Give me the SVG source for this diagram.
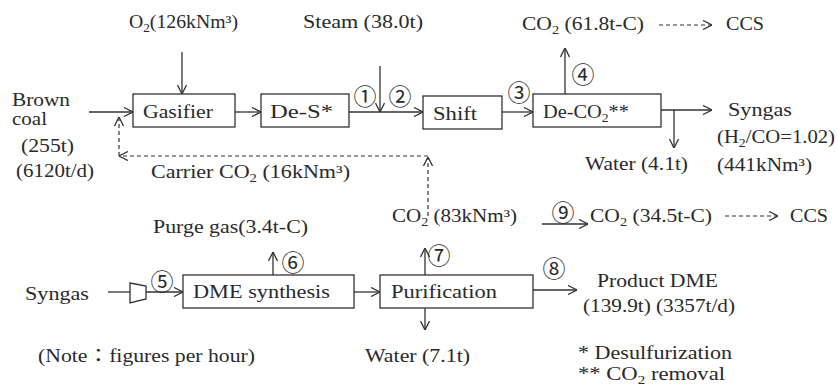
<svg xmlns="http://www.w3.org/2000/svg" width="837" height="387" viewBox="0 0 837 387">
<defs>
<marker id="ah" viewBox="0 0 10 10" refX="10" refY="5" markerWidth="10" markerHeight="10" markerUnits="userSpaceOnUse" orient="auto">
<path d="M1,0.5 L10,5 L1,9.5" fill="none" stroke="#333" stroke-width="1.3"/>
</marker>
<style>
text{font-family:"Liberation Serif","Noto Sans CJK JP",serif;font-size:18px;fill:#2a2a2a}
.sub{font-size:12px}
.num{font-family:"Noto Sans CJK JP","DejaVu Sans",sans-serif;font-size:23px;text-anchor:middle;dominant-baseline:central}
.box{fill:#fff;stroke:#333;stroke-width:1.3}
.ln{fill:none;stroke:#333;stroke-width:1.3}
.arr{fill:none;stroke:#333;stroke-width:1.3;marker-end:url(#ah)}
.dash{fill:none;stroke:#333;stroke-width:1.2;stroke-dasharray:4 3;marker-end:url(#ah)}
</style>
</defs>
<rect width="837" height="387" fill="#fff"/>

<g id="connectors">
<line class="arr" x1="89" y1="112" x2="133" y2="112"/>
<line class="arr" x1="182" y1="52" x2="182" y2="94"/>
<line class="arr" x1="235" y1="112" x2="261" y2="112"/>
<line class="arr" x1="349" y1="112" x2="423" y2="112"/>
<line class="arr" x1="380" y1="66" x2="380" y2="112"/>
<line class="arr" x1="502" y1="112" x2="533" y2="112"/>
<line class="arr" x1="565" y1="94" x2="565" y2="48"/>
<line class="arr" x1="661" y1="110" x2="712" y2="110"/>
<line class="arr" x1="674" y1="110" x2="674" y2="148"/>
<line class="dash" x1="659" y1="25" x2="712" y2="25"/>
<line class="dash" x1="428" y1="216" x2="428" y2="157"/>
<line class="dash" x1="428" y1="156" x2="119" y2="156"/>
<line class="dash" x1="119" y1="156" x2="119" y2="117"/>
<line class="ln" x1="108" y1="292" x2="130" y2="292"/>
<line class="arr" x1="146" y1="292" x2="183" y2="292"/>
<line class="arr" x1="273" y1="275" x2="273" y2="252"/>
<line class="arr" x1="354" y1="292" x2="380" y2="292"/>
<line class="arr" x1="425" y1="275" x2="425" y2="248"/>
<line class="arr" x1="425" y1="308" x2="425" y2="330"/>
<line class="arr" x1="533" y1="290" x2="577" y2="290"/>
<line class="arr" x1="542" y1="224" x2="588" y2="224"/>
<line class="dash" x1="725" y1="216" x2="778" y2="216"/>
</g>

<g id="compressor">
<polygon class="box" points="130,283 146,286 146,299 130,303"/>
</g>

<g id="gasifier">
<rect class="box" x="133" y="94" width="102" height="33"/>
<text x="143" y="118" textLength="70" lengthAdjust="spacingAndGlyphs">Gasifier</text>
</g>
<g id="des">
<rect class="box" x="261" y="94" width="88" height="33"/>
<text x="270" y="118" textLength="63" lengthAdjust="spacingAndGlyphs">De-S*</text>
</g>
<g id="shift">
<rect class="box" x="423" y="96" width="79" height="33"/>
<text x="433" y="120" textLength="44" lengthAdjust="spacingAndGlyphs">Shift</text>
</g>
<g id="deco2">
<rect class="box" x="533" y="94" width="128" height="33"/>
<text x="543" y="118" textLength="86" lengthAdjust="spacingAndGlyphs">De-CO<tspan class="sub" dy="4">2</tspan><tspan dy="-4">**</tspan></text>
</g>
<g id="dme">
<rect class="box" x="183" y="275" width="171" height="33"/>
<text x="193" y="298" textLength="137" lengthAdjust="spacingAndGlyphs">DME synthesis</text>
</g>
<g id="purification">
<rect class="box" x="380" y="275" width="153" height="33"/>
<text x="391" y="298" textLength="106" lengthAdjust="spacingAndGlyphs">Purification</text>
</g>

<g id="labels">
<text x="129" y="28" textLength="109" lengthAdjust="spacingAndGlyphs">O<tspan class="sub" dy="4">2</tspan><tspan dy="-4">(126kNm³)</tspan></text>
<text x="303" y="28" textLength="120" lengthAdjust="spacingAndGlyphs">Steam (38.0t)</text>
<text x="522" y="30" textLength="122" lengthAdjust="spacingAndGlyphs">CO<tspan class="sub" dy="4">2</tspan><tspan dy="-4"> (61.8t-C)</tspan></text>
<text x="726" y="30" textLength="38" lengthAdjust="spacingAndGlyphs">CCS</text>
<text x="12" y="106" textLength="58" lengthAdjust="spacingAndGlyphs">Brown</text>
<text x="12" y="125" textLength="35" lengthAdjust="spacingAndGlyphs">coal</text>
<text x="21" y="152" textLength="53" lengthAdjust="spacingAndGlyphs">(255t)</text>
<text x="16" y="177" textLength="78" lengthAdjust="spacingAndGlyphs">(6120t/d)</text>
<text x="151" y="178" textLength="199" lengthAdjust="spacingAndGlyphs">Carrier CO<tspan class="sub" dy="4">2</tspan><tspan dy="-4"> (16kNm³)</tspan></text>
<text x="728" y="116" textLength="64" lengthAdjust="spacingAndGlyphs">Syngas</text>
<text x="717" y="143" textLength="118" lengthAdjust="spacingAndGlyphs">(H<tspan class="sub" dy="4">2</tspan><tspan dy="-4">/CO=1.02)</tspan></text>
<text x="717" y="171" textLength="95" lengthAdjust="spacingAndGlyphs">(441kNm³)</text>
<text x="585" y="170" textLength="103" lengthAdjust="spacingAndGlyphs">Water (4.1t)</text>
<text x="153" y="233" textLength="155" lengthAdjust="spacingAndGlyphs">Purge gas(3.4t-C)</text>
<text x="392" y="222" textLength="125" lengthAdjust="spacingAndGlyphs">CO<tspan class="sub" dy="4">2</tspan><tspan dy="-4"> (83kNm³)</tspan></text>
<text x="590" y="222" textLength="122" lengthAdjust="spacingAndGlyphs">CO<tspan class="sub" dy="4">2</tspan><tspan dy="-4"> (34.5t-C)</tspan></text>
<text x="790" y="222" textLength="38" lengthAdjust="spacingAndGlyphs">CCS</text>
<text x="25" y="300" textLength="64" lengthAdjust="spacingAndGlyphs">Syngas</text>
<text x="597" y="287" textLength="121" lengthAdjust="spacingAndGlyphs">Product DME</text>
<text x="583" y="312" textLength="152" lengthAdjust="spacingAndGlyphs">(139.9t) (3357t/d)</text>
<text x="38" y="362" textLength="217" lengthAdjust="spacingAndGlyphs">(Note：figures per hour)</text>
<text x="365" y="362" textLength="105" lengthAdjust="spacingAndGlyphs">Water (7.1t)</text>
<text x="578" y="359" textLength="154" lengthAdjust="spacingAndGlyphs">* Desulfurization</text>
<text x="578" y="380" textLength="147" lengthAdjust="spacingAndGlyphs">** CO<tspan class="sub" dy="4">2</tspan><tspan dy="-4"> removal</tspan></text>
</g>

<g id="stream-numbers">
<text class="num" x="365" y="95">①</text>
<text class="num" x="400" y="95">②</text>
<text class="num" x="519" y="91">③</text>
<text class="num" x="583" y="73">④</text>
<text class="num" x="162" y="280">⑤</text>
<text class="num" x="293" y="261">⑥</text>
<text class="num" x="439" y="254">⑦</text>
<text class="num" x="554" y="267">⑧</text>
<text class="num" x="563" y="211">⑨</text>
</g>
</svg>
